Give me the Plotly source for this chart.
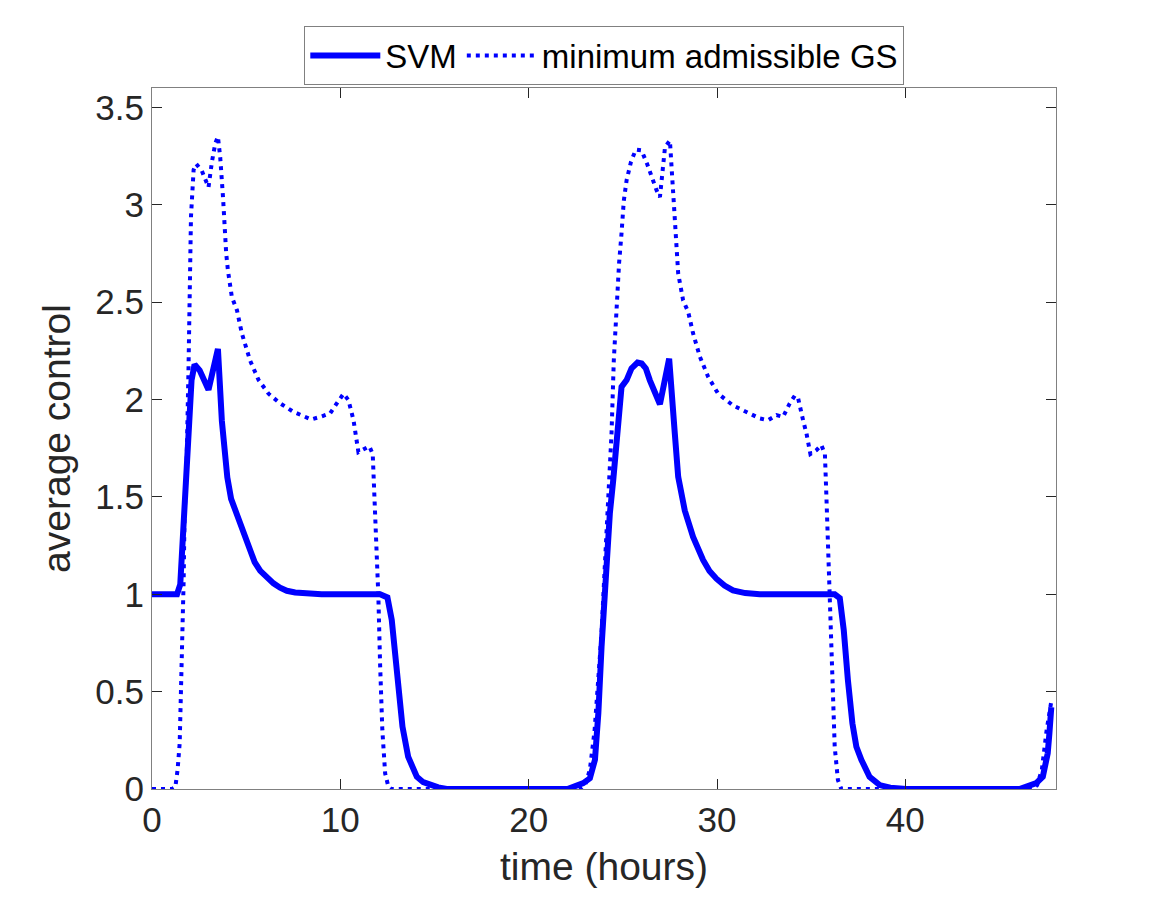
import plotly.graph_objects as go

# SVM (solid) series: time in hours, average control
svm_t = [0, 1.33, 1.5, 1.65, 1.77, 1.9, 2.0, 2.1, 2.26, 2.53, 3.0, 3.5, 3.71, 4.0, 4.2,
         4.42, 4.77, 5.13, 5.45, 5.75, 6.1, 6.45, 6.8, 7.16, 7.6, 8.2, 9.0, 12.11, 12.5,
         12.73, 12.9, 13.08, 13.3, 13.6, 14.06, 14.4, 14.76, 15.2, 15.65, 22.06, 22.9,
         23.25, 23.52, 23.7, 23.87, 24.05, 24.31, 24.49, 24.7, 24.93, 25.2, 25.46, 25.78,
         26.0, 26.22, 26.43, 26.97, 27.46, 27.76, 27.94, 28.29, 28.73, 29.26, 29.6, 29.97,
         30.4, 30.85, 31.5, 32.27, 36.25, 36.52, 36.73, 36.95, 37.19, 37.4, 37.67, 38.1,
         38.64, 39.2, 40.05, 46.06, 46.95, 47.3, 47.56, 47.65, 47.75]
svm_v = [1.0, 1.0, 1.05, 1.3, 1.5, 1.75, 1.95, 2.1, 2.18, 2.15, 2.05, 2.26, 1.89, 1.6, 1.49,
         1.43, 1.33, 1.23, 1.165, 1.12, 1.083, 1.056, 1.034, 1.018, 1.009, 1.004, 1.0, 1.0,
         0.984, 0.868, 0.697, 0.49, 0.32, 0.166, 0.063, 0.035, 0.02, 0.008, 0.0, 0.0, 0.03,
         0.055, 0.15, 0.39, 0.73, 1.07, 1.415, 1.586, 1.86, 2.065, 2.1, 2.16, 2.19,
         2.185, 2.16, 2.1, 1.976, 2.21, 1.826, 1.603, 1.43, 1.295, 1.176, 1.12, 1.08,
         1.045, 1.02, 1.006, 1.0, 1.0, 0.98, 0.816, 0.56, 0.337, 0.217, 0.149, 0.063,
         0.02, 0.007, 0.0, 0.0, 0.03, 0.063, 0.183, 0.286, 0.42]

# minimum admissible GS (dotted) series
gs_t = [0, 1.06, 1.24, 1.36, 1.47, 1.54, 1.62, 1.68, 1.73, 1.82, 1.94, 2.0, 2.07, 2.21,
        2.35, 2.65, 3.0, 3.18, 3.36, 3.5, 3.62, 3.77, 3.85, 3.94, 4.03, 4.24, 4.51, 4.77,
        5.21, 5.66, 6.19, 6.81, 7.51, 8.45, 8.93, 9.46, 9.81, 10.17, 10.43, 10.7, 10.96,
        11.19, 11.54, 11.72, 11.81, 11.94, 12.02, 12.11, 12.23, 12.38, 12.55, 12.7,
        22.75, 23.0, 23.25, 23.5, 23.75, 23.87, 24.05, 24.22, 24.4, 24.52, 24.67, 24.8,
        24.93, 25.05, 25.2, 25.43, 25.69, 25.99, 26.29, 26.52, 26.79, 26.97, 27.06,
        27.24, 27.5, 27.64, 27.71, 27.82, 27.94, 28.2, 28.47, 28.73, 29.09, 29.53, 30.06,
        30.85, 31.56, 32.27, 32.71, 33.16, 33.51, 33.86, 34.13, 34.3, 34.57, 34.75,
        34.96, 35.28, 35.54, 35.73, 35.81, 35.9, 36.02, 36.13, 36.25, 36.42, 36.6,
        46.75, 47.0, 47.25, 47.5, 47.75]
gs_v = [0, 0, 0.01, 0.1, 0.235, 0.47, 0.73, 1.07, 1.415, 1.586, 2.17, 2.68, 2.94, 3.18,
        3.21, 3.174, 3.09, 3.22, 3.315, 3.35, 3.246, 3.04, 2.887, 2.75, 2.664, 2.527,
        2.459, 2.34, 2.2, 2.1, 2.03, 1.98, 1.937, 1.898, 1.911, 1.929, 1.98, 2.03, 1.997,
        1.894, 1.73, 1.74, 1.76, 1.72, 1.5, 1.244, 0.987, 0.645, 0.303, 0.08, 0.012, 0,
        0, 0.02, 0.1, 0.3, 0.6, 0.8, 1.16, 1.5, 1.826, 2.2, 2.476, 2.7,
        2.853, 3.02, 3.126, 3.22, 3.284, 3.28, 3.21, 3.143, 3.075, 3.04, 3.126,
        3.297, 3.33, 3.126, 2.99, 2.818, 2.647, 2.51, 2.45, 2.34, 2.22, 2.117, 2.03,
        1.97, 1.937, 1.903, 1.894, 1.92, 1.911, 1.98, 2.02, 2.01, 1.894, 1.826,
        1.72, 1.74, 1.766, 1.72, 1.5, 1.244, 0.9, 0.56, 0.217, 0.046, 0,
        0, 0.02, 0.1, 0.3, 0.45]

x_ticks = [0, 10, 20, 30, 40]
y_ticks = [0, 0.5, 1, 1.5, 2, 2.5, 3, 3.5]

FONT = "Liberation Sans, Arial, sans-serif"
TXT = "#262626"

fig = go.Figure()
fig.add_trace(go.Scatter(x=svm_t, y=svm_v, mode="lines", name="SVM",
                         line=dict(color="#0000ff", width=6), cliponaxis=False))
fig.add_trace(go.Scatter(x=gs_t, y=gs_v, mode="lines", name="minimum admissible GS",
                         line=dict(color="#0000ff", width=4, dash="4px,5px"),
                         cliponaxis=False))

axis_common = dict(showline=True, linecolor="#808080", linewidth=1.3, mirror="ticks",
                   ticks="inside", ticklen=10, tickcolor="#262626", tickwidth=1,
                   showgrid=False, zeroline=False,
                   tickfont=dict(family=FONT, size=35, color=TXT))

fig.update_layout(
    width=1167, height=921,
    margin=dict(l=152, r=111, t=88, b=132, autoexpand=False),
    paper_bgcolor="white", plot_bgcolor="white",
    font=dict(family=FONT, color=TXT),
    showlegend=True,
    legend=dict(orientation="h", x=0.5, xanchor="center", y=1.004, yanchor="bottom",
                font=dict(family=FONT, size=33, color="#000000"),
                bgcolor="white", bordercolor="#808080", borderwidth=1.3,
                itemwidth=70, tracegroupgap=0),
    xaxis=dict(range=[0, 48], tickvals=x_ticks,
               title=dict(text="time (hours)", font=dict(family=FONT, size=39, color=TXT),
                          standoff=14),
               **axis_common),
    yaxis=dict(range=[0, 3.6], tickvals=y_ticks,
               title=dict(text="average control", font=dict(family=FONT, size=39, color=TXT),
                          standoff=12),
               **axis_common),
)

fig.write_html("out.html")
